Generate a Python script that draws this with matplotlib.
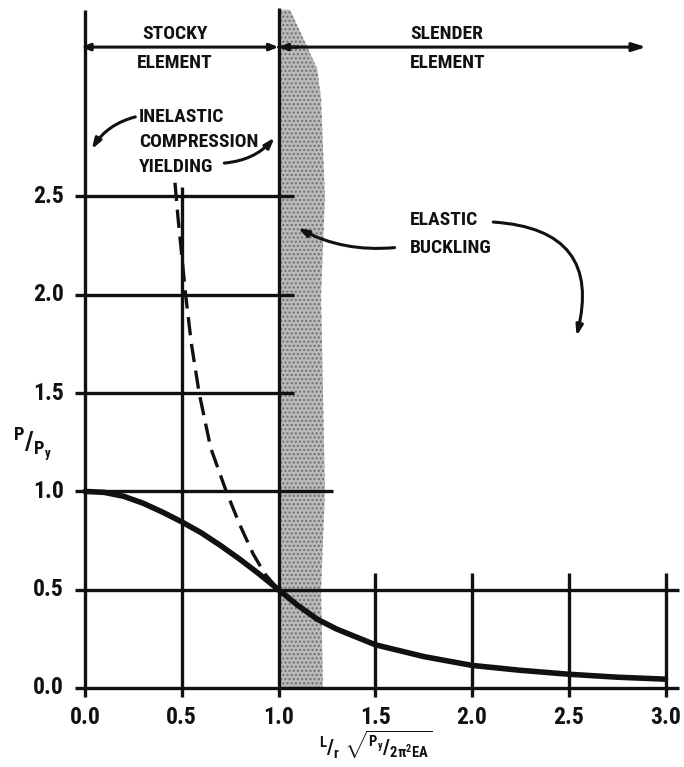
import matplotlib
matplotlib.use("Agg")
import matplotlib.pyplot as plt
from matplotlib import font_manager
import numpy as np

# ---- data ----
x_ticks = [0.0, 0.5, 1.0, 1.5, 2.0, 2.5, 3.0]
x_tick_labels = ["0.0", "0.5", "1.0", "1.5", "2.0", "2.5", "3.0"]
y_ticks = [0.0, 0.5, 1.0, 1.5, 2.0, 2.5]
y_tick_labels = ["0.0", "0.5", "1.0", "1.5", "2.0", "2.5"]

inelastic_x = [0.0, 0.1, 0.2, 0.3, 0.4, 0.5, 0.6, 0.7, 0.8, 0.9, 1.0]
inelastic_y = [1.0, 0.995, 0.975, 0.94, 0.895, 0.845, 0.79, 0.725, 0.655, 0.58, 0.5]

elastic_x = [1.0, 1.1, 1.2, 1.3, 1.4, 1.5, 1.75, 2.0, 2.25, 2.5, 2.75, 3.0]
elastic_y = [0.5, 0.42, 0.35, 0.30, 0.26, 0.22, 0.16, 0.115, 0.09, 0.07, 0.055, 0.045]

euler_x = [0.465, 0.48, 0.50, 0.52, 0.55, 0.59, 0.65, 0.73, 0.80, 0.87, 0.93, 1.0]
euler_y = [2.57, 2.40, 2.20, 2.0, 1.75, 1.5, 1.22, 1.0, 0.83, 0.68, 0.58, 0.5]

band_y = [0.0, 0.5, 1.0, 1.5, 2.0, 2.5, 3.0, 3.15, 3.3, 3.45]
band_right_x = [1.23, 1.22, 1.24, 1.23, 1.22, 1.24, 1.22, 1.20, 1.13, 1.06]

# ---- pick a narrow font if one is installed ----
installed = {f.name for f in font_manager.fontManager.ttflist}
FONT = ["DejaVu Sans"]
STRETCH = "condensed"
for cand in ["Liberation Sans Narrow", "Roboto Condensed", "Open Sans Condensed",
             "Noto Sans Condensed", "DejaVu Sans Condensed"]:
    if cand in installed:
        FONT = [cand, "DejaVu Sans"]
        STRETCH = "normal"
        break

plt.rcParams["mathtext.fontset"] = "custom"
plt.rcParams["mathtext.sf"] = FONT[0] + ":bold"
plt.rcParams["mathtext.rm"] = FONT[0] + ":bold"
plt.rcParams["mathtext.it"] = FONT[0] + ":bold"

INK = "#111111"

fig = plt.figure(figsize=(6.84, 7.67), dpi=100)
px_x, px_y = 193.5, 196.6
x0, x1 = -0.06, 3.08
y0, y1 = -0.06, 3.47
left = (85 + x0 * px_x) / 684
bottom = (79 + y0 * px_y) / 767
ax = fig.add_axes([left, bottom, (x1 - x0) * px_x / 684, (y1 - y0) * px_y / 767])
ax.set_xlim(x0, x1)
ax.set_ylim(y0, y1)
ax.axis("off")

# shaded stippled band
ax.fill_betweenx(band_y, 1.0, band_right_x, facecolor="#bababa",
                 edgecolor="#6e6e6e", hatch="....", linewidth=0, zorder=1)

glw = 2.4
for yv in y_ticks:
    if yv <= 0.5:
        xe = 3.07
    elif yv == 1.0:
        xe = 1.28
    else:
        xe = 1.08
    ax.plot([-0.05, xe], [yv, yv], color=INK, lw=glw, solid_capstyle="butt", zorder=3)

for xv in x_ticks:
    if xv == 0.0:
        ye = 3.45
    elif xv == 0.5:
        ye = 2.55
    elif xv == 1.0:
        ye = 3.46
    else:
        ye = 0.585
    ax.plot([xv, xv], [-0.045, ye], color=INK, lw=glw, solid_capstyle="butt", zorder=3)

# curves
ax.plot(inelastic_x, inelastic_y, color=INK, lw=4.0, zorder=4, solid_capstyle="round")
ax.plot(elastic_x, elastic_y, color=INK, lw=4.0, zorder=4, solid_capstyle="round")
ax.plot(euler_x, euler_y, color=INK, lw=2.4, dashes=(5.5, 2.6), zorder=4)

tick_kw = dict(fontsize=17, fontweight="bold", family=FONT, fontstretch=STRETCH,
               color=INK, clip_on=False)
for xv, lab in zip(x_ticks, x_tick_labels):
    ax.text(xv, -0.15, lab, ha="center", va="center", **tick_kw)
for yv, lab in zip(y_ticks, y_tick_labels):
    ax.text(-0.11, yv, lab, ha="right", va="center", **tick_kw)

# axis labels
ax.text(-0.27, 1.24, r"$^{\mathsf{P}}/_{\mathsf{P_y}}$", ha="center", va="center",
        fontsize=19, color=INK, clip_on=False)
ax.text(1.5, -0.29, r"$^{\mathsf{L}}/_{\mathsf{r}}\ \sqrt{^{\mathsf{P_y}}/_{\mathsf{2\pi^2EA}}}$",
        ha="center", va="center", fontsize=15, color=INK, clip_on=False)

# top region arrows
arr_y = 3.26
ax.annotate("", xy=(-0.02, arr_y), xytext=(1.0, arr_y),
            arrowprops=dict(arrowstyle="<|-|>,head_length=0.5,head_width=0.2",
                            color=INK, lw=2.2, shrinkA=0, shrinkB=0), zorder=5)
ax.annotate("", xy=(2.9, arr_y), xytext=(1.0, arr_y),
            arrowprops=dict(arrowstyle="-|>,head_length=0.8,head_width=0.25",
                            color=INK, lw=2.2, shrinkA=0, shrinkB=0), zorder=5)
ax.annotate("", xy=(1.0, arr_y), xytext=(1.1, arr_y),
            arrowprops=dict(arrowstyle="-|>,head_length=0.5,head_width=0.2",
                            color=INK, lw=2.2, shrinkA=0, shrinkB=0), zorder=5)

tkw = dict(fontsize=14, family=FONT, fontstretch=STRETCH, color=INK, fontweight="bold")
ax.text(0.465, 3.325, "STOCKY", ha="center", va="center", **tkw)
ax.text(0.465, 3.18, "ELEMENT", ha="center", va="center", **tkw)
ax.text(1.68, 3.325, "SLENDER", ha="left", va="center", **tkw)
ax.text(1.68, 3.18, "ELEMENT", ha="left", va="center", **tkw)

ax.text(0.28, 2.905, "INELASTIC", ha="left", va="center", **tkw)
ax.text(0.28, 2.775, "COMPRESSION", ha="left", va="center", **tkw)
ax.text(0.28, 2.65, "YIELDING", ha="left", va="center", **tkw)

ax.text(1.68, 2.38, "ELASTIC", ha="left", va="center", **tkw)
ax.text(1.68, 2.24, "BUCKLING", ha="left", va="center", **tkw)

akw = dict(color=INK, lw=2.2, shrinkA=0, shrinkB=0)
ax.annotate("", xy=(0.035, 2.74), xytext=(0.26, 2.905),
            arrowprops=dict(arrowstyle="-|>,head_length=0.6,head_width=0.2",
                            connectionstyle="arc3,rad=0.2", **akw))
ax.annotate("", xy=(0.98, 2.80), xytext=(0.72, 2.67),
            arrowprops=dict(arrowstyle="-|>,head_length=0.6,head_width=0.2",
                            connectionstyle="arc3,rad=0.2", **akw))
ax.annotate("", xy=(1.10, 2.34), xytext=(1.60, 2.24),
            arrowprops=dict(arrowstyle="-|>,head_length=0.6,head_width=0.2",
                            connectionstyle="arc3,rad=-0.15", **akw))
ax.annotate("", xy=(2.54, 1.79), xytext=(2.11, 2.37),
            arrowprops=dict(arrowstyle="-|>,head_length=0.6,head_width=0.2",
                            connectionstyle="arc3,rad=-0.6", **akw))

fig.savefig("out.png", dpi=100)
